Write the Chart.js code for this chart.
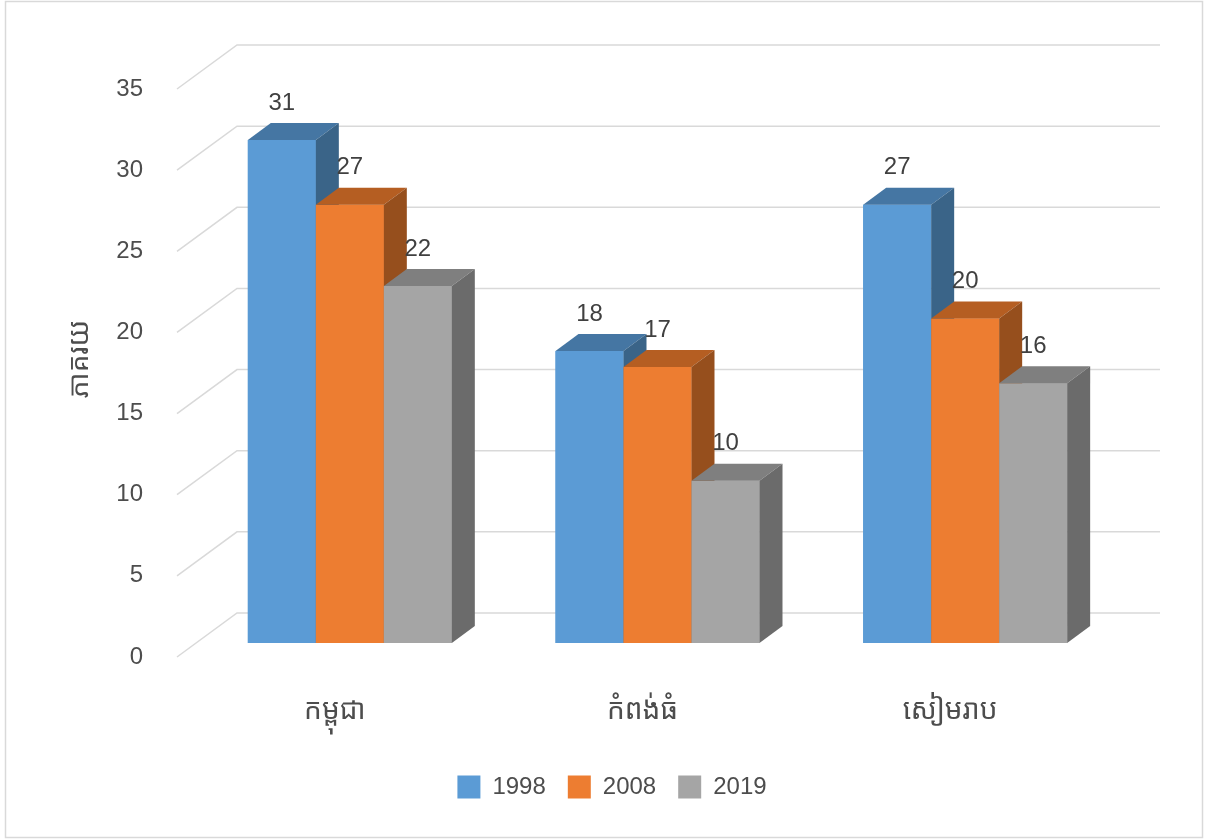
<!DOCTYPE html>
<html lang="km">
<head>
  <meta charset="UTF-8" />
  <title>ភាគរយ</title>
  <script src="https://cdn.jsdelivr.net/npm/chart.js"></script>
  <style>
    html, body { margin: 0; padding: 0; background: #fff; }
  </style>
</head>
<body>
  <canvas id="chart" width="1205" height="840"></canvas>

  <script>
    // data
    const categories = ['កម្ពុជា', 'កំពង់ធំ', 'សៀមរាប'];
    const years = ['1998', '2008', '2019'];
    const values1998 = [31, 18, 27];
    const values2008 = [27, 17, 20];
    const values2019 = [22, 10, 16];
    const yMin = 0, yMax = 35, yStep = 5;

    // front, top and side colours of the 3d bars
    const frontColors = ['#5b9bd5', '#ed7d31', '#a5a5a5'];
    const topColors = ['#4576a3', '#b55e22', '#7f7f7f'];
    const sideColors = ['#3a6488', '#964f1d', '#6b6b6b'];

    const FONT = '"Liberation Sans", "Noto Sans Khmer", "Khmer OS", sans-serif';
    Chart.defaults.font.family = FONT;
    Chart.defaults.color = '#4d4d4d';

    // oblique offsets (pixels) from the plane of the bar fronts
    const depth = { dx: 23, dy: -17 };  // bar depth
    const wall = { dx: 41, dy: -30 };   // back wall
    const front = { dx: -19, dy: 14 };  // front edge of floor

    const frame = {
      id: 'frame',
      beforeDraw(chart) {
        const ctx = chart.ctx;
        ctx.save();
        ctx.fillStyle = '#fff';
        ctx.fillRect(0, 0, chart.width, chart.height);
        ctx.strokeStyle = '#d9d9d9';
        ctx.lineWidth = 1.5;
        ctx.strokeRect(5.5, 1.5, chart.width - 8, chart.height - 4);
        ctx.restore();
      }
    };

    const walls = {
      id: 'walls',
      beforeDatasetsDraw(chart) {
        const ctx = chart.ctx;
        const ys = chart.scales.y;
        const { left, right } = chart.chartArea;
        ctx.save();
        ctx.strokeStyle = '#d9d9d9';
        ctx.lineWidth = 1.5;
        ctx.beginPath();
        ys.ticks.forEach(t => {
          const y = ys.getPixelForValue(t.value);
          ctx.moveTo(left + front.dx, y + front.dy);
          ctx.lineTo(left + wall.dx, y + wall.dy);
          ctx.lineTo(right + wall.dx, y + wall.dy);
        });
        ctx.stroke();
        ctx.restore();
      }
    };

    function poly(ctx, pts, color) {
      ctx.fillStyle = color;
      ctx.beginPath();
      ctx.moveTo(pts[0][0], pts[0][1]);
      for (let i = 1; i < pts.length; i++) ctx.lineTo(pts[i][0], pts[i][1]);
      ctx.closePath();
      ctx.fill();
    }

    const bars3d = {
      id: 'bars3d',
      afterDatasetsDraw(chart) {
        const ctx = chart.ctx;
        ctx.save();
        chart.data.datasets.forEach((ds, di) => {
          const meta = chart.getDatasetMeta(di);
          meta.data.forEach(bar => {
            const l = bar.x - bar.width / 2, r = bar.x + bar.width / 2;
            const t = bar.y, b = bar.base;
            poly(ctx, [[l, t], [r, t], [r, b], [l, b]], frontColors[di]);
            poly(ctx, [[l, t], [l + depth.dx, t + depth.dy], [r + depth.dx, t + depth.dy], [r, t]], topColors[di]);
            poly(ctx, [[r, t], [r + depth.dx, t + depth.dy], [r + depth.dx, b + depth.dy], [r, b]], sideColors[di]);
          });
        });
        // value labels
        ctx.fillStyle = '#404040';
        ctx.font = '24px ' + FONT;
        ctx.textAlign = 'center';
        ctx.textBaseline = 'middle';
        chart.data.datasets.forEach((ds, di) => {
          chart.getDatasetMeta(di).data.forEach((bar, i) => {
            ctx.fillText(ds.data[i], bar.x, bar.y - 37);
          });
        });
        ctx.restore();
      }
    };

    new Chart(document.getElementById('chart'), {
      type: 'bar',
      data: {
        labels: categories,
        datasets: [
          { label: years[0], data: values1998, backgroundColor: frontColors[0] },
          { label: years[1], data: values2008, backgroundColor: frontColors[1] },
          { label: years[2], data: values2019, backgroundColor: frontColors[2] }
        ]
      },
      options: {
        responsive: false,
        animation: false,
        categoryPercentage: 0.663,
        barPercentage: 1,
        layout: { padding: { left: 105, right: 86, top: 75, bottom: 31 } },
        plugins: {
          tooltip: { enabled: false },
          legend: {
            position: 'bottom',
            labels: {
              boxWidth: 23,
              boxHeight: 23,
              padding: 22,
              color: '#4d4d4d',
              font: { size: 24 }
            }
          }
        },
        scales: {
          x: {
            grid: { display: false },
            border: { display: false },
            ticks: {
              padding: 43,
              labelOffset: -15,
              color: '#4d4d4d',
              font: { size: 28 }
            },
            afterFit(scale) { scale.height = 110; }
          },
          y: {
            min: yMin,
            max: yMax,
            grid: { display: false, drawTicks: false },
            border: { display: false },
            ticks: {
              stepSize: yStep,
              padding: 53,
              labelOffset: 14,
              color: '#4d4d4d',
              font: { size: 24 }
            },
            title: {
              display: true,
              text: 'ភាគរយ',
              color: '#4d4d4d',
              font: { size: 28 },
              padding: { top: -42, bottom: 0 }
            },
            afterFit(scale) { scale.width = 91; }
          }
        }
      },
      plugins: [frame, walls, bars3d]
    });
  </script>
</body>
</html>
